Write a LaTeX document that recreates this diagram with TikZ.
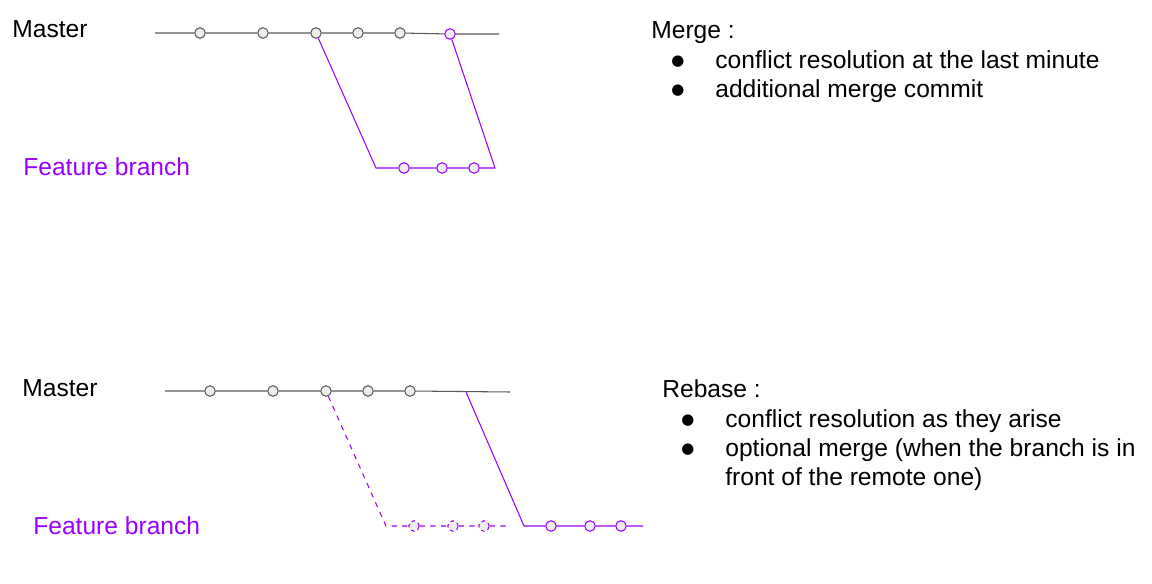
\documentclass[tikz,border=0pt]{standalone}
\usepackage{fontspec}
\setmainfont{Liberation Sans}
\newfontfamily\symfont{DejaVu Sans}
\definecolor{branchpurple}{HTML}{9900FF}
\definecolor{commitfill}{HTML}{EEEEEE}
\definecolor{lineg}{HTML}{595959}
\tikzset{commit/.style={circle,draw=lineg,fill=commitfill,line width=0.6pt,minimum size=0.21cm,inner sep=0pt},
         fcommit/.style={commit,draw=branchpurple},
         ghost/.style={commit,draw=branchpurple,dashed,dash pattern=on 2pt off 2pt},
         masterline/.style={draw=lineg,line width=0.6pt},
         branchline/.style={draw=branchpurple,line width=0.6pt},
         label/.style={anchor=base west,inner sep=0pt,font=\fontsize{14}{16}\selectfont},
         blabel/.style={label,text=branchpurple},
         bullet/.style={anchor=base west,inner sep=0pt,font=\symfont\fontsize{8.5}{16}\selectfont}
         }
\begin{document}
\begin{tikzpicture}[x=0.02cm,y=-0.02cm]
\useasboundingbox (0,0) rectangle (1152,584);
\node[label] (master1) at (12,38) {Master};
\node[blabel] (feature1) at (23,176) {Feature branch};
\coordinate (mL) at (155,33);
\coordinate (mR) at (499,34);
\node[commit] (c1) at (200,33) {};
\node[commit] (c2) at (263,33) {};
\node[commit] (c3) at (316,33) {};
\node[commit] (c4) at (358,33) {};
\node[commit] (c5) at (400,33) {};
\node[fcommit] (c6) at (450,34) {};
\draw[masterline] (mL) -- (c1) -- (c2) -- (c3) -- (c4) -- (c5) -- (c6) -- (mR);
\coordinate (fL) at (376,168);
\coordinate (fR) at (495,168);
\node[fcommit] (f1) at (404,168) {};
\node[fcommit] (f2) at (442,168) {};
\node[fcommit] (f3) at (474,168) {};
\draw[branchline] (c3) -- (fL) -- (f1) -- (f2) -- (f3) -- (fR) -- (c6);
\node[label] (mergetitle) at (651,39) {Merge :};
\node[bullet] (mb1) at (671,66) {●};
\node[label] (mt1) at (715,69) {conflict resolution at the last minute};
\node[bullet] (mb2) at (671,95) {●};
\node[label] (mt2) at (715,98) {additional merge commit};
\node[label] (master2) at (22,396) {Master};
\node[blabel] (feature2) at (33,534) {Feature branch};
\coordinate (bL) at (165,391);
\coordinate (bM) at (466,392);
\coordinate (bR) at (510,392);
\node[commit] (d1) at (210,391) {};
\node[commit] (d2) at (273,391) {};
\node[commit] (d3) at (326,391) {};
\node[commit] (d4) at (368,391) {};
\node[commit] (d5) at (410,391) {};
\draw[masterline] (bL) -- (d1) -- (d2) -- (d3) -- (d4) -- (d5) -- (bR);
\coordinate (hL) at (386,526);
\coordinate (hR) at (508,526);
\node[ghost] (h1) at (414,526) {};
\node[ghost] (h2) at (453,526) {};
\node[ghost] (h3) at (484,526) {};
\draw[branchline,dashed] (d3) -- (hL) -- (h1) -- (h2) -- (h3) -- (hR);
\coordinate (gL) at (524,526);
\coordinate (gR) at (643,526);
\node[fcommit] (g1) at (551,526) {};
\node[fcommit] (g2) at (590,526) {};
\node[fcommit] (g3) at (621,526) {};
\draw[branchline] (bM) -- (gL) -- (g1) -- (g2) -- (g3) -- (gR);
\node[label] (rebasetitle) at (662,397) {Rebase :};
\node[bullet] (rb1) at (681,424) {●};
\node[label] (rt1) at (725,427) {conflict resolution as they arise};
\node[bullet] (rb2) at (681,453) {●};
\node[label] (rt2) at (725,456) {optional merge (when the branch is in};
\node[label] (rt3) at (725,485) {front of the remote one)};
\end{tikzpicture}
\end{document}
